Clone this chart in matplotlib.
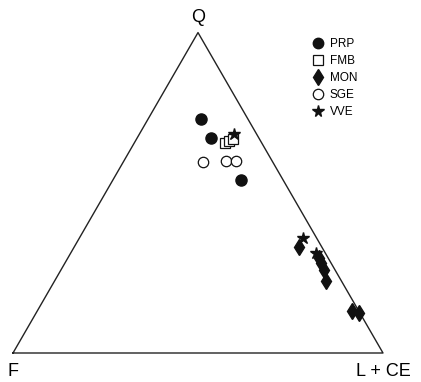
import matplotlib
matplotlib.use("Agg")
import matplotlib.pyplot as plt
from matplotlib.lines import Line2D
import numpy as np

plt.rcParams['font.family'] = ['Liberation Sans', 'DejaVu Sans']

# Ternary data (percent): Q, F, L+CE
prp_q = [73.0, 67.1, 54.0]
prp_f = [12.7, 12.9, 11.4]
prp_l = [14.3, 20.0, 34.6]

fmb_q = [65.5, 66.1, 66.8]
fmb_f = [10.0, 8.6, 7.1]
fmb_l = [24.5, 25.3, 26.1]

mon_q = [33.1, 29.6, 28.1, 25.9, 22.5, 13.1, 12.5]
mon_f = [6.1, 2.5, 2.7, 3.0, 4.2, 1.8, 0.2]
mon_l = [60.8, 67.9, 69.2, 71.1, 73.3, 85.1, 87.3]

sge_q = [59.6, 59.9, 59.9]
sge_f = [18.9, 12.5, 9.8]
sge_l = [21.5, 27.6, 30.3]

vve_q = [68.3, 35.9, 31.2]
vve_f = [6.1, 3.7, 2.5]
vve_l = [25.6, 60.4, 66.3]

apex_labels = ["Q", "F", "L + CE"]
series_names = ["PRP", "FMB", "MON", "SGE", "VVE"]


def tern(q, f, l):
    q = np.asarray(q, float); f = np.asarray(f, float); l = np.asarray(l, float)
    s = q + f + l
    q, l = q / s, l / s
    return l + q / 2.0, q * np.sqrt(3) / 2.0


W, H = 421, 382
fig = plt.figure(figsize=(W / 100, H / 100), dpi=100)
ax = fig.add_axes([0, 0, 1, 1])
scale = 370.0
x0 = 13.0
ybase = 29.0
ax.set_xlim(-x0 / scale, (W - x0) / scale)
ax.set_ylim(-ybase / scale, (H - ybase) / scale)
ax.axis('off')

# triangle
h = np.sqrt(3) / 2
ax.plot([0, 1, 0.5, 0], [0, 0, h, 0], color='#222222', lw=1.0, zorder=1)

ax.text(0.5, h + 15 / scale, apex_labels[0], ha='center', va='center', fontsize=13)
ax.text(0.0, -18 / scale, apex_labels[1], ha='center', va='center', fontsize=13)
ax.text(1.0, -18 / scale, apex_labels[2], ha='center', va='center', fontsize=13)

k = '#111111'
x, y = tern(prp_q, prp_f, prp_l)
ax.plot(x, y, 'o', ms=8, color=k, ls='none', zorder=3)
x, y = tern(fmb_q, fmb_f, fmb_l)
ax.plot(x, y, 's', ms=6.5, mfc='white', mec=k, mew=0.9, ls='none', zorder=3)
x, y = tern(sge_q, sge_f, sge_l)
ax.plot(x, y, 'o', ms=7.5, mfc='white', mec=k, mew=0.9, ls='none', zorder=3)
x, y = tern(mon_q, mon_f, mon_l)
ax.plot(x, y, 'd', ms=8.5, color=k, ls='none', zorder=3)
x, y = tern(vve_q, vve_f, vve_l)
ax.plot(x, y, '*', ms=9, color=k, ls='none', zorder=4)

handles = [
    Line2D([], [], marker='o', ls='none', color=k, ms=7.5),
    Line2D([], [], marker='s', ls='none', mfc='white', mec=k, mew=0.9, ms=6.5),
    Line2D([], [], marker='d', ls='none', color=k, ms=8),
    Line2D([], [], marker='o', ls='none', mfc='white', mec=k, mew=0.9, ms=7.5),
    Line2D([], [], marker='*', ls='none', color=k, ms=8.5),
]
fig.legend(handles, series_names, loc='upper left', bbox_to_anchor=(312 / W, 1 - 38 / H),
           frameon=False, fontsize=8.5, handlelength=1.0, handletextpad=0.5,
           labelspacing=0.42, borderpad=0, borderaxespad=0)

fig.savefig('out.png', dpi=100)
